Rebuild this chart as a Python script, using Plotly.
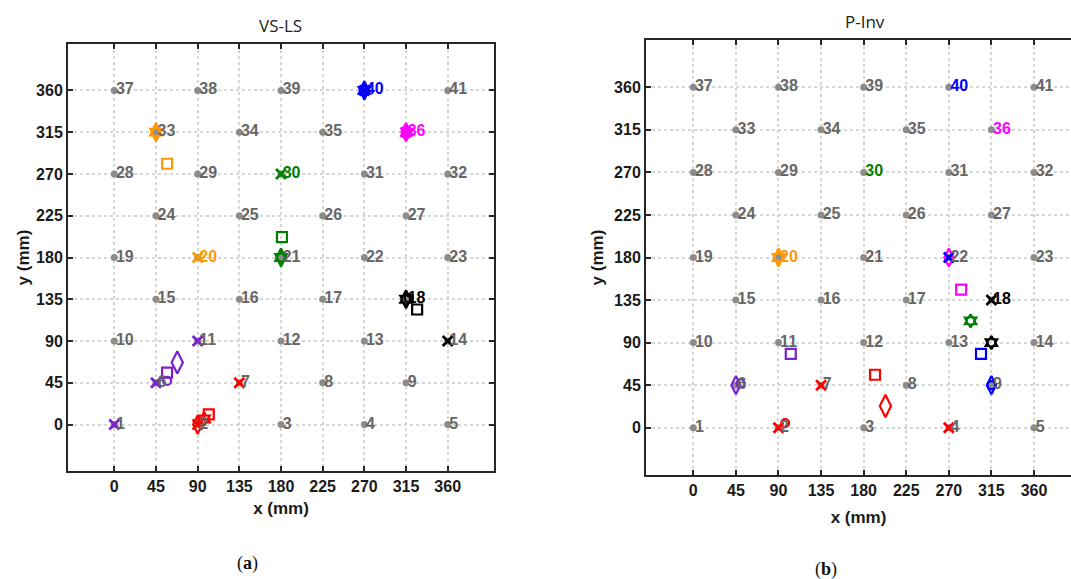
import plotly.graph_objects as go

# ---------------- data ----------------
PT_X = [0, 90, 180, 270, 360, 45, 135, 225, 315, 0, 90, 180, 270, 360, 45, 135, 225, 315,
        0, 90, 180, 270, 360, 45, 135, 225, 315, 0, 90, 180, 270, 360, 45, 135, 225, 315,
        0, 90, 180, 270, 360]
PT_Y = [0] * 5 + [45] * 4 + [90] * 5 + [135] * 4 + [180] * 5 + [225] * 4 + [270] * 5 + [315] * 4 + [360] * 5
PT_LABEL = [str(i) for i in range(1, 42)]
TICKS = [0, 45, 90, 135, 180, 225, 270, 315, 360]

PURPLE, RED, ORANGE, GREEN = "#7B22CF", "#FF0000", "#FF9900", "#008000"
BLUE, MAGENTA, BLACK = "#0000FF", "#FF00FF", "#000000"

# highlighted labels (same in both panels)
HL_LABELS = ["20", "30", "40", "36", "18"]
HL_COLORS = [ORANGE, GREEN, BLUE, MAGENTA, BLACK]

# ---- panel (a) VS-LS ----
A_X_X = [0, 45, 90, 135, 90, 90, 180, 360, 270, 315]
A_X_Y = [0, 45, 90, 45, 0, 180, 270, 90, 360, 315]
A_X_C = [PURPLE, PURPLE, PURPLE, RED, RED, ORANGE, GREEN, BLACK, BLUE, MAGENTA]

A_SQ_X = [57, 102, 57, 181, 327]
A_SQ_Y = [56, 11, 281, 202, 124]
A_SQ_C = [PURPLE, RED, ORANGE, GREEN, BLACK]

A_DI_X = [68, 90, 45, 180, 315, 270, 315]
A_DI_Y = [67, 0, 315, 180, 135, 360, 315]
A_DI_C = [PURPLE, RED, ORANGE, GREEN, BLACK, BLUE, MAGENTA]

A_CI_X = [57, 94, 45, 180, 318, 270, 315]
A_CI_Y = [47, 3, 315, 180, 136, 360, 315]
A_CI_C = [PURPLE, RED, ORANGE, GREEN, BLACK, BLUE, MAGENTA]

A_HX_X = [97, 45, 180, 315, 270, 316]
A_HX_Y = [6, 315, 180, 135, 360, 315]
A_HX_C = [RED, ORANGE, GREEN, BLACK, BLUE, MAGENTA]

# ---- panel (b) P-Inv ----
B_X_X = [90, 135, 270, 270, 315]
B_X_Y = [0, 45, 0, 180, 135]
B_X_C = [RED, RED, RED, BLUE, BLACK]

B_SQ_X = [103, 192, 283, 304]
B_SQ_Y = [78, 56, 146, 78]
B_SQ_C = [PURPLE, RED, MAGENTA, BLUE]

B_DI_X = [45, 203, 90, 270, 315]
B_DI_Y = [45, 23, 180, 180, 45]
B_DI_C = [PURPLE, RED, ORANGE, MAGENTA, BLUE]

B_CI_X = [50, 97, 90, 315, 293, 315]
B_CI_Y = [47, 5, 180, 45, 113, 90]
B_CI_C = [PURPLE, RED, ORANGE, BLUE, GREEN, BLACK]

B_HX_X = [90, 293, 315]
B_HX_Y = [180, 113, 90]
B_HX_C = [ORANGE, GREEN, BLACK]

# ---------------- figure ----------------
fig = go.Figure()
GRID_SET = set(zip(PT_X, PT_Y))


def add_markers(xa, ya, xs, ys, cs, sym, size, lw):
    if len(xs) == 0:
        return
    fig.add_trace(go.Scatter(
        x=xs, y=ys, mode="markers", xaxis=xa, yaxis=ya,
        marker=dict(symbol=sym, size=size, color=cs, line=dict(color=cs, width=lw)),
        hoverinfo="skip", showlegend=False))


def add_panel(xa, ya, sets):
    colors = []
    for lab in PT_LABEL:
        colors.append(HL_COLORS[HL_LABELS.index(lab)] if lab in HL_LABELS else "#666666")
    fig.add_trace(go.Scatter(
        x=PT_X, y=PT_Y, mode="markers", xaxis=xa, yaxis=ya,
        marker=dict(size=7, color="#8c8c8c"), hoverinfo="skip", showlegend=False))
    for (xs, ys, cs, sym, size, lw) in sets:
        if sym.startswith("diamond"):
            # isolated (off-grid) diamonds are drawn a bit larger than clustered ones
            on = [i for i in range(len(xs)) if (xs[i], ys[i]) in GRID_SET]
            off = [i for i in range(len(xs)) if (xs[i], ys[i]) not in GRID_SET]
            add_markers(xa, ya, [xs[i] for i in on], [ys[i] for i in on],
                        [cs[i] for i in on], sym, size, lw)
            add_markers(xa, ya, [xs[i] for i in off], [ys[i] for i in off],
                        [cs[i] for i in off], sym, size + 3, lw)
        else:
            add_markers(xa, ya, xs, ys, cs, sym, size, lw)
    fig.add_trace(go.Scatter(
        x=PT_X, y=PT_Y, mode="markers+text", xaxis=xa, yaxis=ya,
        marker=dict(size=1, color="rgba(0,0,0,0)"),
        text=["<b>%s</b>" % t for t in PT_LABEL], textposition="middle right",
        textfont=dict(family="Liberation Sans", size=16, color=colors),
        hoverinfo="skip", showlegend=False))


add_panel("x", "y", [
    (A_DI_X, A_DI_Y, A_DI_C, "diamond-tall-open", 13, 2.2),
    (A_CI_X, A_CI_Y, A_CI_C, "circle-open", 8, 2.2),
    (A_HX_X, A_HX_Y, A_HX_C, "hexagram-open", 10, 2.2),
    (A_SQ_X, A_SQ_Y, A_SQ_C, "square-open", 10, 2.2),
    (A_X_X, A_X_Y, A_X_C, "x-thin-open", 10, 2.8),
])
add_panel("x2", "y2", [
    (B_DI_X, B_DI_Y, B_DI_C, "diamond-tall-open", 13, 2.2),
    (B_CI_X, B_CI_Y, B_CI_C, "circle-open", 8, 2.2),
    (B_HX_X, B_HX_Y, B_HX_C, "hexagram-open", 10, 2.2),
    (B_SQ_X, B_SQ_Y, B_SQ_C, "square-open", 10, 2.2),
    (B_X_X, B_X_Y, B_X_C, "x-thin-open", 10, 2.8),
])

W, H = 1071, 579
TICKFONT = dict(family="Liberation Sans", size=16, color="#1a1a1a")
TITLEFONT = dict(family="Liberation Sans", size=17, color="#1a1a1a")


def ax(domain, rng, mirror, title, standoff, anchor):
    return dict(domain=domain, range=rng, tickvals=TICKS, anchor=anchor,
                ticktext=["<b>%d</b>" % t for t in TICKS],
                tickfont=TICKFONT, showgrid=True, gridcolor="#d6d6d6", griddash="dot",
                gridwidth=1.5, zeroline=False, showline=True, linecolor="#262626",
                linewidth=2, mirror=mirror, ticks="inside", ticklen=5, tickwidth=2,
                tickcolor="#262626", title=dict(text="<b>%s</b>" % title, font=TITLEFONT,
                                                standoff=standoff),
                fixedrange=True)


fig.update_layout(
    width=W, height=H, margin=dict(l=0, r=0, t=0, b=0),
    paper_bgcolor="white", plot_bgcolor="white",
    xaxis=ax([68 / W, 494 / W], [-50, 410], "ticks", "x (mm)", 8, "y"),
    yaxis=ax([(H - 471) / H, (H - 44) / H], [-50, 410], "ticks", "y (mm)", 2, "x"),
    xaxis2=ax([646 / W, 1.0], [-50, 399.1], "ticks", "x (mm)", 13, "y2"),
    yaxis2=ax([(H - 475) / H, (H - 40) / H], [-50, 410], False, "y (mm)", 6, "x2"),
)

ANN = dict(xref="paper", yref="paper", showarrow=False, xanchor="center", yanchor="middle")
fig.add_annotation(x=280 / W, y=1 - 25 / H, text="VS-LS",
                   font=dict(family="Open Sans", size=17, color="#222"), **ANN)
fig.add_annotation(x=865 / W, y=1 - 22 / H, text="P-Inv",
                   font=dict(family="Open Sans", size=17, color="#222"), **ANN)
fig.add_annotation(x=247 / W, y=1 - 563 / H, text="(<b>a</b>)",
                   font=dict(family="Liberation Serif", size=18, color="#111"), **ANN)
fig.add_annotation(x=826 / W, y=1 - 569 / H, text="(<b>b</b>)",
                   font=dict(family="Liberation Serif", size=18, color="#111"), **ANN)

fig.write_html("out.html", config={"displayModeBar": False},
               post_script="document.body.style.margin='0px';document.body.style.overflow='hidden';")
